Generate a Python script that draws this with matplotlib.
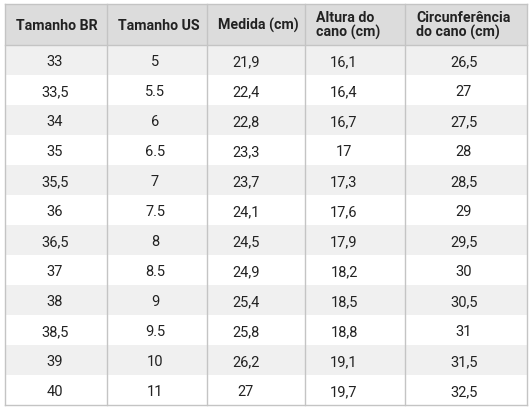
import matplotlib
matplotlib.use("Agg")
import matplotlib.pyplot as plt
from matplotlib.patches import Rectangle

headers = ["Tamanho BR", "Tamanho US", "Medida (cm)", "Altura do\ncano (cm)", "Circunferência\ndo cano (cm)"]
br = ["33","33,5","34","35","35,5","36","36,5","37","38","38,5","39","40"]
us = ["5","5.5","6","6.5","7","7.5","8","8.5","9","9.5","10","11"]
medida = ["21,9","22,4","22,8","23,3","23,7","24,1","24,5","24,9","25,4","25,8","26,2","27"]
altura = ["16,1","16,4","16,7","17","17,3","17,6","17,9","18,2","18,5","18,8","19,1","19,7"]
circ = ["26,5","27","27,5","28","28,5","29","29,5","30","30,5","31","31,5","32,5"]
cols = [br, us, medida, altura, circ]

W, H = 530, 410
fig = plt.figure(figsize=(W/100, H/100), dpi=100)
ax = fig.add_axes([0, 0, 1, 1])
ax.set_xlim(0, W); ax.set_ylim(H, 0); ax.axis("off")
plt.rcParams['font.family'] = ['Roboto', 'DejaVu Sans']

xs = [5, 107, 207, 305, 405, 527]
top, hb, rh = 5, 46, 30
centers = [55, 155, 246, 344, 464]
ax.add_patch(Rectangle((xs[0], top), xs[-1]-xs[0], hb-top, fc="#dcdcdc", ec="none"))
for i in range(len(br)):
    y = hb + i*rh
    if i % 2 == 0:
        ax.add_patch(Rectangle((xs[0], y), xs[-1]-xs[0], rh, fc="#f0f0f0", ec="none"))
    for j, c in enumerate(cols):
        ax.text(centers[j], y + rh/2 + 1, c[i], ha="center", va="center", fontsize=10.5, color="#222222")
for j, h in enumerate(headers):
    ax.text(xs[j] + 11, (top+hb)/2, h, ha="left", va="center", fontsize=10.2,
            fontweight="semibold", color="#222222", linespacing=1.0)
bottom = hb + rh*len(br)
for x in xs:
    ax.plot([x, x], [top, bottom], color="#c4c4c4", lw=1)
for y in [top, hb, bottom]:
    ax.plot([xs[0], xs[-1]], [y, y], color="#c4c4c4", lw=1)
fig.savefig("out.png", dpi=100)
